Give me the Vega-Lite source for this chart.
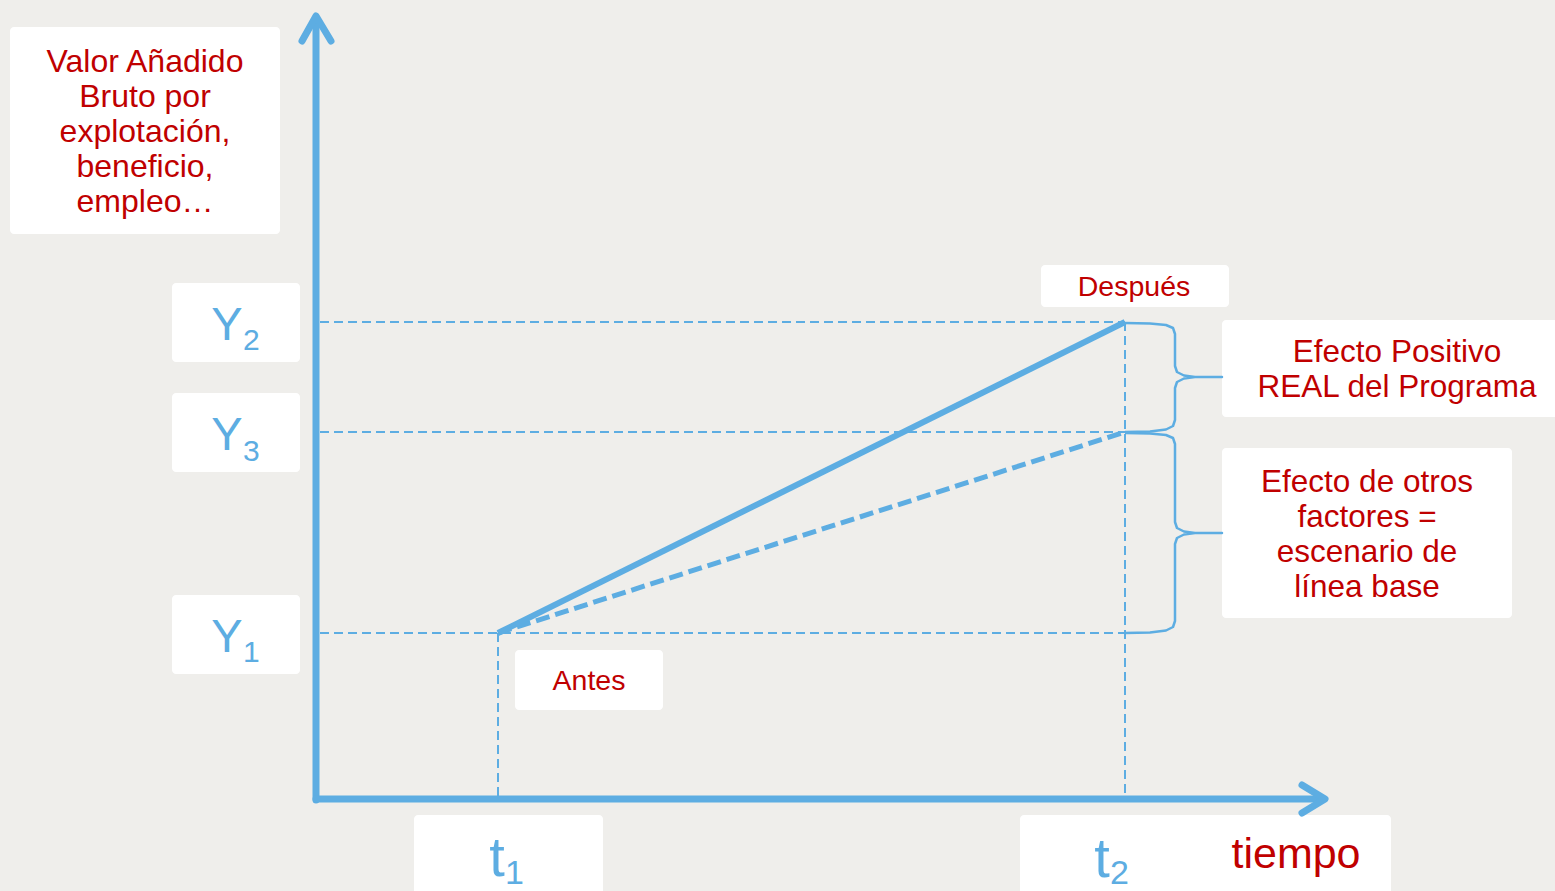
{
  "$schema": "https://vega.github.io/schema/vega-lite/v6.json",
  "width": 1555,
  "height": 891,
  "autosize": {"type": "none"},
  "padding": 0,
  "background": "#EFEEEB",
  "config": {"view": {"stroke": null}, "text": {"font": "Liberation Sans"}},
  "datasets": {
    "boxes": [
      {"x1": 10, "x2": 280, "y1": 27, "y2": 234},
      {"x1": 172, "x2": 300, "y1": 283, "y2": 362},
      {"x1": 172, "x2": 300, "y1": 393, "y2": 472},
      {"x1": 172, "x2": 300, "y1": 595, "y2": 674},
      {"x1": 1041, "x2": 1229, "y1": 265, "y2": 307},
      {"x1": 1222, "x2": 1562, "y1": 320, "y2": 417},
      {"x1": 1222, "x2": 1512, "y1": 448, "y2": 618},
      {"x1": 515, "x2": 663, "y1": 650, "y2": 710},
      {"x1": 414, "x2": 603, "y1": 815, "y2": 900},
      {"x1": 1020, "x2": 1391, "y1": 815, "y2": 900}
    ],
    "guides": [
      {"x1": 320, "y1": 322, "x2": 1125, "y2": 322},
      {"x1": 320, "y1": 432, "x2": 1125, "y2": 432},
      {"x1": 320, "y1": 633, "x2": 1125, "y2": 633},
      {"x1": 498, "y1": 633, "x2": 498, "y2": 797},
      {"x1": 1125, "y1": 322, "x2": 1125, "y2": 797}
    ],
    "paths": [
      {"kind": "real", "x1": 498, "y1": 633, "x2": 1125, "y2": 322},
      {"kind": "base", "x1": 498, "y1": 633, "x2": 1125, "y2": 432}
    ],
    "axes": [
      {"id": "yaxis", "o": 1, "x": 316, "y": 800},
      {"id": "yaxis", "o": 2, "x": 316, "y": 18},
      {"id": "yarrow", "o": 1, "x": 302, "y": 41},
      {"id": "yarrow", "o": 2, "x": 316, "y": 16},
      {"id": "yarrow", "o": 3, "x": 331, "y": 41},
      {"id": "xaxis", "o": 1, "x": 316, "y": 799},
      {"id": "xaxis", "o": 2, "x": 1320, "y": 799},
      {"id": "xarrow", "o": 1, "x": 1302, "y": 785},
      {"id": "xarrow", "o": 2, "x": 1325, "y": 799},
      {"id": "xarrow", "o": 3, "x": 1302, "y": 813}
    ],
    "braces": [
      {"id": "b1", "o": 1, "x": 1125, "y": 323},
      {"id": "b1", "o": 2, "x": 1150, "y": 323.5},
      {"id": "b1", "o": 3, "x": 1166, "y": 325},
      {"id": "b1", "o": 4, "x": 1173, "y": 328},
      {"id": "b1", "o": 5, "x": 1175, "y": 334},
      {"id": "b1", "o": 6, "x": 1175, "y": 366},
      {"id": "b1", "o": 7, "x": 1177, "y": 372},
      {"id": "b1", "o": 8, "x": 1184, "y": 375.5},
      {"id": "b1", "o": 9, "x": 1195, "y": 377},
      {"id": "b1", "o": 10, "x": 1222, "y": 377},
      {"id": "b1", "o": 11, "x": 1195, "y": 377},
      {"id": "b1", "o": 12, "x": 1184, "y": 378.5},
      {"id": "b1", "o": 13, "x": 1177, "y": 382},
      {"id": "b1", "o": 14, "x": 1175, "y": 388},
      {"id": "b1", "o": 15, "x": 1175, "y": 420},
      {"id": "b1", "o": 16, "x": 1173, "y": 426},
      {"id": "b1", "o": 17, "x": 1166, "y": 429.5},
      {"id": "b1", "o": 18, "x": 1150, "y": 431.5},
      {"id": "b1", "o": 19, "x": 1125, "y": 432},
      {"id": "b2", "o": 1, "x": 1125, "y": 433},
      {"id": "b2", "o": 2, "x": 1150, "y": 433.5},
      {"id": "b2", "o": 3, "x": 1166, "y": 435},
      {"id": "b2", "o": 4, "x": 1173, "y": 438},
      {"id": "b2", "o": 5, "x": 1175, "y": 444},
      {"id": "b2", "o": 6, "x": 1175, "y": 522},
      {"id": "b2", "o": 7, "x": 1177, "y": 528},
      {"id": "b2", "o": 8, "x": 1184, "y": 531.5},
      {"id": "b2", "o": 9, "x": 1195, "y": 533},
      {"id": "b2", "o": 10, "x": 1222, "y": 533},
      {"id": "b2", "o": 11, "x": 1195, "y": 533},
      {"id": "b2", "o": 12, "x": 1184, "y": 534.5},
      {"id": "b2", "o": 13, "x": 1177, "y": 538},
      {"id": "b2", "o": 14, "x": 1175, "y": 544},
      {"id": "b2", "o": 15, "x": 1175, "y": 621},
      {"id": "b2", "o": 16, "x": 1173, "y": 627},
      {"id": "b2", "o": 17, "x": 1166, "y": 630.5},
      {"id": "b2", "o": 18, "x": 1150, "y": 632.5},
      {"id": "b2", "o": 19, "x": 1125, "y": 633}
    ],
    "texts": [
      {"kind": "title", "text": "Valor Añadido", "x": 145, "y": 72},
      {"kind": "title", "text": "Bruto por", "x": 145, "y": 107},
      {"kind": "title", "text": "explotación,", "x": 145, "y": 142},
      {"kind": "title", "text": "beneficio,", "x": 145, "y": 177},
      {"kind": "title", "text": "empleo…", "x": 145, "y": 212},
      {"kind": "effect", "text": "Efecto Positivo", "x": 1397, "y": 362},
      {"kind": "effect", "text": "REAL del Programa", "x": 1397, "y": 397},
      {"kind": "effect", "text": "Efecto de otros", "x": 1367, "y": 492},
      {"kind": "effect", "text": "factores =", "x": 1367, "y": 527},
      {"kind": "effect", "text": "escenario de", "x": 1367, "y": 562},
      {"kind": "effect", "text": "línea base", "x": 1367, "y": 597},
      {"kind": "tag", "text": "Después", "x": 1134, "y": 296},
      {"kind": "tag", "text": "Antes", "x": 589, "y": 690},
      {"kind": "unit", "text": "tiempo", "x": 1296, "y": 868},
      {"kind": "yLetter", "text": "Y", "x": 227, "y": 340},
      {"kind": "yLetter", "text": "Y", "x": 227, "y": 450},
      {"kind": "yLetter", "text": "Y", "x": 227, "y": 652},
      {"kind": "ySub", "text": "2", "x": 243, "y": 350},
      {"kind": "ySub", "text": "3", "x": 243, "y": 461},
      {"kind": "ySub", "text": "1", "x": 243, "y": 662},
      {"kind": "tLetter", "text": "t", "x": 497, "y": 876},
      {"kind": "tLetter", "text": "t", "x": 1102, "y": 877},
      {"kind": "tSub", "text": "1", "x": 505, "y": 884},
      {"kind": "tSub", "text": "2", "x": 1110, "y": 884}
    ]
  },
  "layer": [
    {
      "data": {"name": "boxes"},
      "mark": {"type": "rect", "fill": "#FFFFFF", "cornerRadius": 4},
      "encoding": {
        "x": {"field": "x1", "type": "quantitative", "axis": null, "scale": {"domain": [0, 1555], "nice": false, "zero": false}},
        "x2": {"field": "x2"},
        "y": {"field": "y1", "type": "quantitative", "axis": null, "scale": {"domain": [0, 891], "nice": false, "zero": false, "reverse": true}},
        "y2": {"field": "y2"}
      }
    },
    {
      "data": {"name": "guides"},
      "mark": {"type": "rule", "stroke": "#5DADE2", "strokeWidth": 2, "strokeDash": [9, 5]},
      "encoding": {
        "x": {"field": "x1", "type": "quantitative", "axis": null, "scale": {"domain": [0, 1555], "nice": false, "zero": false}},
        "x2": {"field": "x2"},
        "y": {"field": "y1", "type": "quantitative", "axis": null, "scale": {"domain": [0, 891], "nice": false, "zero": false, "reverse": true}},
        "y2": {"field": "y2"}
      }
    },
    {
      "data": {"name": "paths"},
      "transform": [{"filter": "datum.kind === 'base'"}],
      "mark": {"type": "rule", "stroke": "#5DADE2", "strokeWidth": 5, "strokeDash": [14, 6]},
      "encoding": {
        "x": {"field": "x1", "type": "quantitative", "axis": null, "scale": {"domain": [0, 1555], "nice": false, "zero": false}},
        "x2": {"field": "x2"},
        "y": {"field": "y1", "type": "quantitative", "axis": null, "scale": {"domain": [0, 891], "nice": false, "zero": false, "reverse": true}},
        "y2": {"field": "y2"}
      }
    },
    {
      "data": {"name": "paths"},
      "transform": [{"filter": "datum.kind === 'real'"}],
      "mark": {"type": "rule", "stroke": "#5DADE2", "strokeWidth": 6},
      "encoding": {
        "x": {"field": "x1", "type": "quantitative", "axis": null, "scale": {"domain": [0, 1555], "nice": false, "zero": false}},
        "x2": {"field": "x2"},
        "y": {"field": "y1", "type": "quantitative", "axis": null, "scale": {"domain": [0, 891], "nice": false, "zero": false, "reverse": true}},
        "y2": {"field": "y2"}
      }
    },
    {
      "data": {"name": "braces"},
      "mark": {"type": "line", "stroke": "#5DADE2", "strokeWidth": 2.5, "strokeJoin": "round"},
      "encoding": {
        "x": {"field": "x", "type": "quantitative", "axis": null, "scale": {"domain": [0, 1555], "nice": false, "zero": false}},
        "y": {"field": "y", "type": "quantitative", "axis": null, "scale": {"domain": [0, 891], "nice": false, "zero": false, "reverse": true}},
        "detail": {"field": "id"},
        "order": {"field": "o", "type": "quantitative"}
      }
    },
    {
      "data": {"name": "axes"},
      "mark": {"type": "line", "stroke": "#5DADE2", "strokeWidth": 7, "strokeCap": "round", "strokeJoin": "round"},
      "encoding": {
        "x": {"field": "x", "type": "quantitative", "axis": null, "scale": {"domain": [0, 1555], "nice": false, "zero": false}},
        "y": {"field": "y", "type": "quantitative", "axis": null, "scale": {"domain": [0, 891], "nice": false, "zero": false, "reverse": true}},
        "detail": {"field": "id"},
        "order": {"field": "o", "type": "quantitative"}
      }
    },
    {
      "data": {"name": "texts"},
      "transform": [{"filter": "datum.kind === 'title'"}],
      "mark": {"type": "text", "color": "#C00000", "fontSize": 32, "align": "center", "baseline": "alphabetic"},
      "encoding": {
        "x": {"field": "x", "type": "quantitative", "axis": null, "scale": {"domain": [0, 1555], "nice": false, "zero": false}},
        "y": {"field": "y", "type": "quantitative", "axis": null, "scale": {"domain": [0, 891], "nice": false, "zero": false, "reverse": true}},
        "text": {"field": "text"}
      }
    },
    {
      "data": {"name": "texts"},
      "transform": [{"filter": "datum.kind === 'effect'"}],
      "mark": {"type": "text", "color": "#C00000", "fontSize": 31.5, "align": "center", "baseline": "alphabetic"},
      "encoding": {
        "x": {"field": "x", "type": "quantitative", "axis": null, "scale": {"domain": [0, 1555], "nice": false, "zero": false}},
        "y": {"field": "y", "type": "quantitative", "axis": null, "scale": {"domain": [0, 891], "nice": false, "zero": false, "reverse": true}},
        "text": {"field": "text"}
      }
    },
    {
      "data": {"name": "texts"},
      "transform": [{"filter": "datum.kind === 'tag'"}],
      "mark": {"type": "text", "color": "#C00000", "fontSize": 28.5, "align": "center", "baseline": "alphabetic"},
      "encoding": {
        "x": {"field": "x", "type": "quantitative", "axis": null, "scale": {"domain": [0, 1555], "nice": false, "zero": false}},
        "y": {"field": "y", "type": "quantitative", "axis": null, "scale": {"domain": [0, 891], "nice": false, "zero": false, "reverse": true}},
        "text": {"field": "text"}
      }
    },
    {
      "data": {"name": "texts"},
      "transform": [{"filter": "datum.kind === 'unit'"}],
      "mark": {"type": "text", "color": "#C00000", "fontSize": 43, "align": "center", "baseline": "alphabetic"},
      "encoding": {
        "x": {"field": "x", "type": "quantitative", "axis": null, "scale": {"domain": [0, 1555], "nice": false, "zero": false}},
        "y": {"field": "y", "type": "quantitative", "axis": null, "scale": {"domain": [0, 891], "nice": false, "zero": false, "reverse": true}},
        "text": {"field": "text"}
      }
    },
    {
      "data": {"name": "texts"},
      "transform": [{"filter": "datum.kind === 'yLetter'"}],
      "mark": {"type": "text", "color": "#5DADE2", "fontSize": 47, "align": "center", "baseline": "alphabetic"},
      "encoding": {
        "x": {"field": "x", "type": "quantitative", "axis": null, "scale": {"domain": [0, 1555], "nice": false, "zero": false}},
        "y": {"field": "y", "type": "quantitative", "axis": null, "scale": {"domain": [0, 891], "nice": false, "zero": false, "reverse": true}},
        "text": {"field": "text"}
      }
    },
    {
      "data": {"name": "texts"},
      "transform": [{"filter": "datum.kind === 'ySub'"}],
      "mark": {"type": "text", "color": "#5DADE2", "fontSize": 30, "align": "left", "baseline": "alphabetic"},
      "encoding": {
        "x": {"field": "x", "type": "quantitative", "axis": null, "scale": {"domain": [0, 1555], "nice": false, "zero": false}},
        "y": {"field": "y", "type": "quantitative", "axis": null, "scale": {"domain": [0, 891], "nice": false, "zero": false, "reverse": true}},
        "text": {"field": "text"}
      }
    },
    {
      "data": {"name": "texts"},
      "transform": [{"filter": "datum.kind === 'tLetter'"}],
      "mark": {"type": "text", "color": "#5DADE2", "fontSize": 56, "align": "center", "baseline": "alphabetic"},
      "encoding": {
        "x": {"field": "x", "type": "quantitative", "axis": null, "scale": {"domain": [0, 1555], "nice": false, "zero": false}},
        "y": {"field": "y", "type": "quantitative", "axis": null, "scale": {"domain": [0, 891], "nice": false, "zero": false, "reverse": true}},
        "text": {"field": "text"}
      }
    },
    {
      "data": {"name": "texts"},
      "transform": [{"filter": "datum.kind === 'tSub'"}],
      "mark": {"type": "text", "color": "#5DADE2", "fontSize": 34, "align": "left", "baseline": "alphabetic"},
      "encoding": {
        "x": {"field": "x", "type": "quantitative", "axis": null, "scale": {"domain": [0, 1555], "nice": false, "zero": false}},
        "y": {"field": "y", "type": "quantitative", "axis": null, "scale": {"domain": [0, 891], "nice": false, "zero": false, "reverse": true}},
        "text": {"field": "text"}
      }
    }
  ]
}
